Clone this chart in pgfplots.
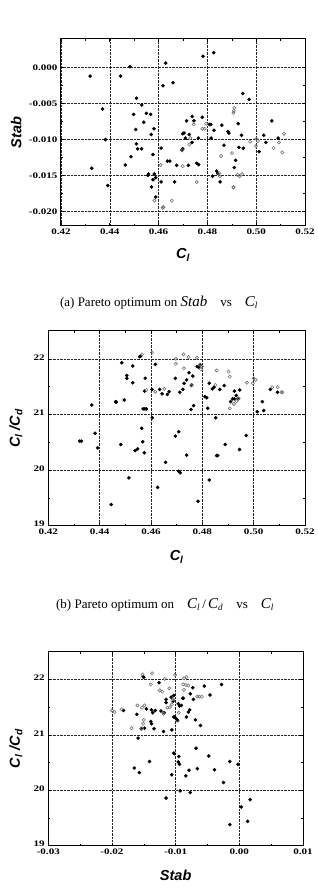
\documentclass[border=0pt]{standalone}
\usepackage{fontspec}
\setmainfont{Liberation Serif}
\newfontfamily\tickfont[FakeStretch=1.3]{Liberation Serif}
\newfontfamily\labfont{Liberation Sans}
\usepackage{pgfplots}
\pgfplotsset{compat=1.18}
\pgfplotsset{myax/.style={scale only axis, scaled ticks=false,
  axis line style={line width=1pt},
  grid=major, major grid style={densely dotted, black!85, line width=0.5pt},
  tick align=inside, minor tick num=1, major tick length=3pt, minor tick length=2pt,
  tick style={black, line width=0.6pt},
  ticklabel style={font=\tickfont\bfseries\fontsize{8.5}{9}\selectfont},
  label style={font=\labfont\bfseries\itshape\fontsize{14.5}{16}\selectfont},
  clip=false},
 filled/.style={only marks, mark=*, mark size=1.6pt, black, mark options={fill=black}},
 hollow/.style={only marks, mark=o, mark size=1.6pt, black!55, mark options={fill=white, line width=0.6pt}}}

\pgfplotstableread{
x y
0.4319 -0.00117
0.4326 -0.0140
0.4370 -0.00575
0.4382 -0.0100
0.4392 -0.0164
0.4444 -0.00117
0.4463 -0.01355
0.4483 0.00014
0.4487 -0.0124
0.4506 -0.0086
0.4509 -0.00425
0.4498 -0.0065
0.4514 -0.0113
0.4530 -0.0113
0.4531 -0.0052
0.4539 -0.0076
0.4509 -0.0106
0.4550 -0.00636
0.4567 -0.0065
0.4581 -0.0085
0.4570 -0.0093
0.4577 -0.0121
0.4618 -0.0025
0.4629 0.00065
0.4659 -0.0021
0.4610 -0.0112
0.4699 -0.0092
0.4636 -0.0130
0.4646 -0.0130
0.4674 -0.0136
0.4666 -0.0159
0.4559 -0.0148
0.4556 -0.0150
0.4582 -0.0148
0.4577 -0.0156
0.4588 -0.0153
0.4571 -0.0166
0.4610 -0.0159
0.4588 -0.0180
0.4699 -0.0113
0.4782 0.0016
0.4826 0.0021
0.4945 -0.0036
0.4971 -0.0044
0.4738 -0.0068
0.4745 -0.0074
0.4779 -0.0069
0.4808 -0.0079
0.4814 -0.0079
0.4715 -0.0074
0.4704 -0.0091
0.4726 -0.0093
0.4710 -0.0098
0.4737 -0.0104
0.4763 -0.0098
0.4827 -0.0087
0.4815 -0.0098
0.4859 -0.0080
0.4884 -0.0089
0.4888 -0.0091
0.4926 -0.0078
0.4940 -0.0094
0.4929 -0.0111
0.4947 -0.0112
0.4868 -0.0108
0.5012 -0.0117
0.5031 -0.0094
0.5040 -0.0104
0.5064 -0.0074
0.5090 -0.0098
0.4722 -0.0136
0.4756 -0.0133
0.4764 -0.0135
0.4695 -0.0115
0.4821 -0.0151
0.4838 -0.0144
0.4842 -0.0147
0.4852 -0.0159
0.4910 -0.0139
0.4916 -0.0129
}\Afilled
\pgfplotstableread{
x y
0.4608 -0.01355
0.4583 -0.0185
0.4617 -0.0195
0.4620 -0.0194
0.4654 -0.0185
0.4699 -0.0137
0.4744 -0.0079
0.4779 -0.0085
0.4789 -0.0085
0.4795 -0.0078
0.4726 -0.0107
0.4730 -0.0098
0.4697 -0.0115
0.4910 -0.0056
0.4908 -0.0060
0.4907 -0.0063
0.4856 -0.0123
0.4901 -0.0119
0.4975 -0.0103
0.5001 -0.0099
0.5007 -0.0102
0.4999 -0.0109
0.5071 -0.0112
0.5093 -0.0104
0.5114 -0.0092
0.5107 -0.0118
0.4848 -0.0147
0.4851 -0.0151
0.4756 -0.0159
0.4907 -0.0167
0.4907 -0.0166
0.4923 -0.0149
0.4932 -0.0151
0.4942 -0.0148
}\Ahollow
\pgfplotstableread{
x y
0.4322 20.52
0.4329 20.52
0.4369 21.17
0.4382 20.66
0.4392 20.40
0.4445 19.38
0.4462 21.23
0.4465 21.22
0.4482 20.46
0.4486 21.93
0.4496 21.26
0.4506 21.65
0.4506 21.70
0.4514 19.86
0.4529 21.87
0.4529 21.57
0.4538 20.35
0.4548 20.38
0.4556 22.04
0.4560 22.05
0.4564 20.75
0.4568 20.51
0.4569 21.10
0.4576 21.10
0.4582 21.10
0.4574 20.31
0.4578 21.65
0.4575 21.42
0.4604 21.45
0.4605 20.94
0.4617 21.90
0.4626 19.69
0.4634 21.45
0.4643 21.37
0.4664 21.36
0.4671 21.41
0.4695 21.65
0.4657 20.14
0.4695 20.61
0.4712 21.40
0.4724 21.45
0.4729 21.56
0.4739 21.62
0.4748 21.75
0.4759 21.53
0.4763 21.69
0.4756 21.09
0.4766 21.16
0.4780 21.86
0.4786 21.85
0.4793 21.89
0.4810 21.32
0.4817 21.30
0.4821 21.11
0.4827 21.56
0.4839 21.46
0.4846 21.49
0.4852 20.94
0.4868 21.45
0.4885 21.52
0.4925 21.42
0.4932 21.34
0.4939 21.28
0.4946 21.44
0.4910 21.23
0.4918 21.28
0.4925 21.28
0.5034 21.23
0.5014 21.05
0.5039 21.07
0.5065 21.45
0.5093 21.40
0.4708 20.69
0.4739 20.27
0.4708 19.98
0.4714 19.95
0.4827 19.82
0.4783 19.44
0.4856 20.26
0.4860 20.26
0.4889 20.46
0.4945 20.37
0.4971 20.62
}\Bfilled
\pgfplotstableread{
x y
0.4565 22.08
0.4604 22.11
0.4582 21.44
0.4617 21.41
0.4652 21.46
0.4697 22.00
0.4697 21.91
0.4727 22.08
0.4746 22.03
0.4779 22.02
0.4728 21.83
0.4757 21.52
0.4791 21.90
0.4795 21.81
0.4799 21.86
0.4856 21.79
0.4902 21.77
0.4907 21.68
0.4851 21.53
0.4974 21.57
0.5000 21.65
0.5008 21.62
0.4997 21.56
0.5072 21.49
0.5094 21.49
0.5108 21.40
0.5112 21.40
0.4923 21.19
0.4942 21.29
0.4933 21.24
0.4907 21.11
}\Bhollow
\pgfplotstableread{
x y
-0.0151 22.05
-0.0150 22.04
-0.0126 21.94
-0.0146 21.47
-0.0161 21.37
-0.0182 21.44
-0.0138 21.45
-0.0136 21.40
-0.0132 21.44
-0.0139 21.24
-0.0138 21.20
-0.0134 21.11
-0.0149 21.12
-0.0154 21.11
-0.0159 20.94
-0.0119 21.06
-0.0106 21.09
-0.0115 21.64
-0.0115 21.58
-0.0107 21.68
-0.0103 21.32
-0.0118 21.40
-0.0123 21.43
-0.0165 20.40
-0.0157 20.32
-0.0141 20.52
-0.0106 20.28
-0.0115 19.86
-0.0102 20.66
-0.0073 21.85
-0.0055 21.88
-0.0028 21.91
-0.0077 21.74
-0.0072 21.64
-0.0046 21.72
-0.0089 21.66
-0.0088 21.66
-0.0103 21.71
-0.0104 21.61
-0.0096 21.56
-0.0091 21.53
-0.0094 21.52
-0.0078 21.45
-0.0080 21.41
-0.0083 21.32
-0.0069 21.27
-0.0061 21.17
-0.0099 21.29
-0.0097 21.26
-0.0102 21.32
-0.0068 20.76
-0.0103 20.67
-0.0095 20.61
-0.0096 20.51
-0.0094 20.47
-0.0048 20.62
-0.0015 20.52
-0.0002 20.47
-0.0066 20.39
-0.0039 20.37
-0.0079 20.36
-0.0084 20.26
-0.0025 20.14
-0.0093 19.99
-0.0077 19.96
0.0003 19.70
0.0017 19.83
0.0013 19.44
-0.0015 19.38
}\Cfilled
\pgfplotstableread{
x y
-0.0152 22.09
-0.0137 22.11
-0.0139 21.91
-0.0125 21.80
-0.0121 21.78
-0.0117 22.01
-0.0110 21.84
-0.0200 21.44
-0.0196 21.41
-0.0185 21.46
-0.0160 21.53
-0.0153 21.49
-0.0149 21.53
-0.0150 21.27
-0.0151 21.20
-0.0153 21.12
-0.0169 21.12
-0.0119 21.38
-0.0113 21.49
-0.0109 21.50
-0.0106 21.55
-0.0101 22.08
-0.0087 22.02
-0.0083 22.04
-0.0088 21.91
-0.0084 21.90
-0.0080 21.89
-0.0087 21.81
-0.0066 21.69
-0.0063 21.69
-0.0059 21.69
-0.0095 21.40
-0.0104 21.64
}\Chollow

\begin{document}
\begin{tikzpicture}
\path[use as bounding box] (0pt,0pt) rectangle (317pt,895pt);
% (a)
\begin{axis}[myax, at={(61pt,669.3pt)}, anchor=south west,
  width=244pt, height=186.7pt,
  xmin=0.42, xmax=0.52, ymin=-0.022, ymax=0.004,
  xtick={0.42,0.44,0.46,0.48,0.50,0.52},
  xticklabels={0.42,0.44,0.46,0.48,0.50,0.52},
  ytick={-0.02,-0.015,-0.01,-0.005,0},
  yticklabels={-0.020,-0.015,-0.010,-0.005,0.000},
  xlabel={C\textsubscript{\itshape l}},
  ylabel={Stab},
  xlabel style={at={(rel axis cs:0.5,-0.157)}, anchor=center},
  ylabel style={at={(rel axis cs:-0.184,0.5)}, anchor=center}]
\addplot[filled] table {\Afilled};
\addplot[hollow] table {\Ahollow};
\end{axis}
\node[font=\fontsize{13}{15}\selectfont] at (159pt,592pt) {(a) Pareto optimum on {\itshape\fontsize{15}{15}\selectfont Stab}\quad vs\quad {\itshape\fontsize{15}{15}\selectfont C}\textsubscript{\itshape l}};
% (b)
\begin{axis}[myax, at={(48.3pt,369.3pt)}, anchor=south west,
  width=256.7pt, height=194.7pt,
  xmin=0.42, xmax=0.52, ymin=19, ymax=22.5,
  xtick={0.42,0.44,0.46,0.48,0.50,0.52},
  xticklabels={0.42,0.44,0.46,0.48,0.50,0.52},
  ytick={19,20,21,22}, yticklabels={19,20,21,22},
  yticklabel style={yshift=1.5pt},
  xlabel={C\textsubscript{\itshape l}},
  ylabel={C\textsubscript{\itshape l} /C\textsubscript{\itshape d}},
  xlabel style={at={(rel axis cs:0.5,-0.161)}, anchor=center},
  ylabel style={at={(rel axis cs:-0.126,0.5)}, anchor=center}]
\addplot[filled] table {\Bfilled};
\addplot[hollow] table {\Bhollow};
\end{axis}
\node[font=\fontsize{13}{15}\selectfont] at (165pt,290pt) {(b) Pareto optimum on\quad {\itshape\fontsize{15}{15}\selectfont C}\textsubscript{\itshape l}\,/\,{\itshape\fontsize{15}{15}\selectfont C}\textsubscript{\itshape d}\quad vs\quad {\itshape\fontsize{15}{15}\selectfont C}\textsubscript{\itshape l}};
% (c)
\begin{axis}[myax, at={(48.3pt,49.3pt)}, anchor=south west,
  width=254.7pt, height=194pt,
  xmin=-0.03, xmax=0.01, ymin=19, ymax=22.5,
  xtick={-0.03,-0.02,-0.01,0,0.01},
  xticklabels={-0.03,-0.02,-0.01,0.00,0.01},
  ytick={19,20,21,22}, yticklabels={19,20,21,22},
  yticklabel style={yshift=1.5pt},
  xlabel={Stab},
  ylabel={C\textsubscript{\itshape l} /C\textsubscript{\itshape d}},
  xlabel style={at={(rel axis cs:0.5,-0.151)}, anchor=center},
  ylabel style={at={(rel axis cs:-0.127,0.5)}, anchor=center}]
\addplot[filled] table {\Cfilled};
\addplot[hollow] table {\Chollow};
\end{axis}
\end{tikzpicture}
\end{document}
